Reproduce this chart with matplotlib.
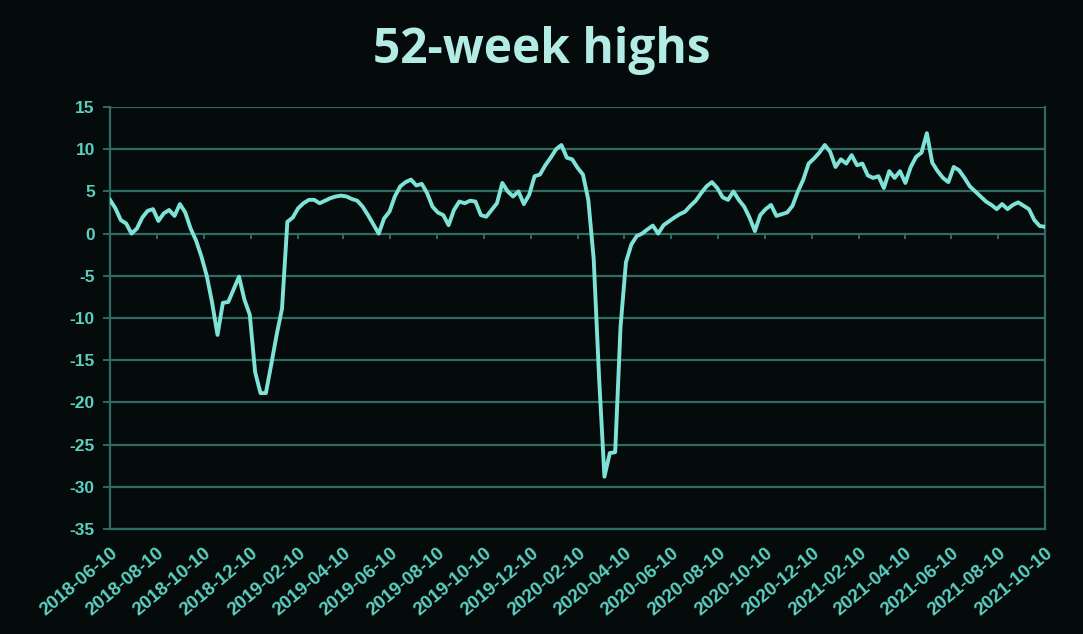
import matplotlib
matplotlib.use("Agg")
import matplotlib.pyplot as plt
import numpy as np
import pandas as pd

# Weekly series
start_date = "2018-06-10"
values = [
    4.0, 3.0, 1.6, 1.2, 0.0, 0.6, 1.9, 2.7, 2.9, 1.5,
    2.4, 2.8, 2.1, 3.5, 2.5, 0.6, -0.8, -2.7, -5.0, -8.2,
    -12.0, -8.2, -8.1, -6.6, -5.1, -7.8, -9.6, -16.4, -18.9, -18.9,
    -15.5, -12.0, -8.9, 1.4, 1.9, 3.0, 3.6, 4.0, 4.0, 3.6,
    3.9, 4.2, 4.4, 4.5, 4.4, 4.1, 3.9, 3.2, 2.2, 1.1,
    0.0, 1.8, 2.6, 4.4, 5.6, 6.1, 6.4, 5.7, 5.9, 4.8,
    3.2, 2.5, 2.2, 1.0, 2.8, 3.8, 3.6, 3.9, 3.8, 2.2,
    2.0, 2.8, 3.6, 6.0, 5.0, 4.4, 5.0, 3.5, 4.6, 6.8,
    7.0, 8.1, 9.0, 10.0, 10.5, 9.0, 8.8, 7.8, 7.0, 4.0,
    -3.0, -17.0, -28.8, -26.0, -25.9, -11.0, -3.4, -1.3, -0.3, 0.0,
    0.5, 0.95, 0.0, 1.0, 1.45, 1.9, 2.3, 2.6, 3.3, 3.9,
    4.8, 5.6, 6.1, 5.4, 4.3, 4.0, 5.0, 4.0, 3.2, 1.9,
    0.3, 2.2, 2.9, 3.4, 2.1, 2.3, 2.5, 3.3, 5.0, 6.4,
    8.3, 8.9, 9.6, 10.5, 9.7, 7.9, 8.8, 8.3, 9.3, 8.1,
    8.3, 6.9, 6.6, 6.8, 5.4, 7.4, 6.6, 7.4, 6.0, 7.9,
    9.1, 9.6, 11.9, 8.4, 7.4, 6.6, 6.1, 7.9, 7.5, 6.6,
    5.6, 5.0, 4.4, 3.8, 3.4, 2.9, 3.5, 2.9, 3.4, 3.7,
    3.3, 2.9, 1.6, 0.9, 0.8,
]
dates = pd.date_range(start_date, periods=len(values), freq="7D")

# Tick dates every two months, on the 10th
tick_dates = pd.date_range("2018-06-01", "2021-10-01", freq="2MS") + pd.Timedelta(days=9)
tick_labels = [d.strftime("%Y-%m-%d") for d in tick_dates]
y_ticks = list(range(-35, 16, 5))

# Colours
bg = "#050b0b"
grid_col = "#2f6a63"
line_col = "#7ee3d6"
tick_col = "#5ccfc0"
title_col = "#b3ece5"

fig = plt.figure(figsize=(10.83, 6.34), dpi=100, facecolor=bg)
ax = fig.add_axes([0.1016, 0.1656, 0.8634, 0.6656], facecolor=bg)

ax.plot(dates, values, color=line_col, linewidth=2.8, solid_joinstyle="round", zorder=3)

ax.set_ylim(-35, 15)
ax.set_xlim(dates[0], dates[-1])
ax.set_yticks(y_ticks)
ax.set_yticklabels([str(v) for v in y_ticks])
ax.yaxis.grid(True, color=grid_col, linewidth=1.6)
ax.set_axisbelow(True)

ax.set_xticks(tick_dates)
ax.set_xticklabels(tick_labels, rotation=40, ha="right", rotation_mode="anchor")
ax.tick_params(axis="x", length=0, pad=11, colors=tick_col, labelsize=13.5)
ax.tick_params(axis="y", length=5, width=1.4, color=grid_col, labelcolor=tick_col, labelsize=12.5, pad=6)
for lab in ax.get_xticklabels() + ax.get_yticklabels():
    lab.set_fontweight("bold")
    lab.set_family(["Liberation Sans", "DejaVu Sans"])

# small tick marks hanging from the zero line
ax.vlines(tick_dates, 0, -0.6, color=grid_col, linewidth=1.4, zorder=2)

ax.spines["top"].set_visible(False)
for side in ["left", "right", "bottom"]:
    ax.spines[side].set_color(grid_col)
    ax.spines[side].set_linewidth(1.6)

fig.text(0.5, 0.92, "52-week highs", ha="center", va="center", color=title_col,
         fontsize=34.5, fontweight="bold", family=["Open Sans", "DejaVu Sans"])

fig.savefig("out.png", dpi=100, facecolor=bg)
